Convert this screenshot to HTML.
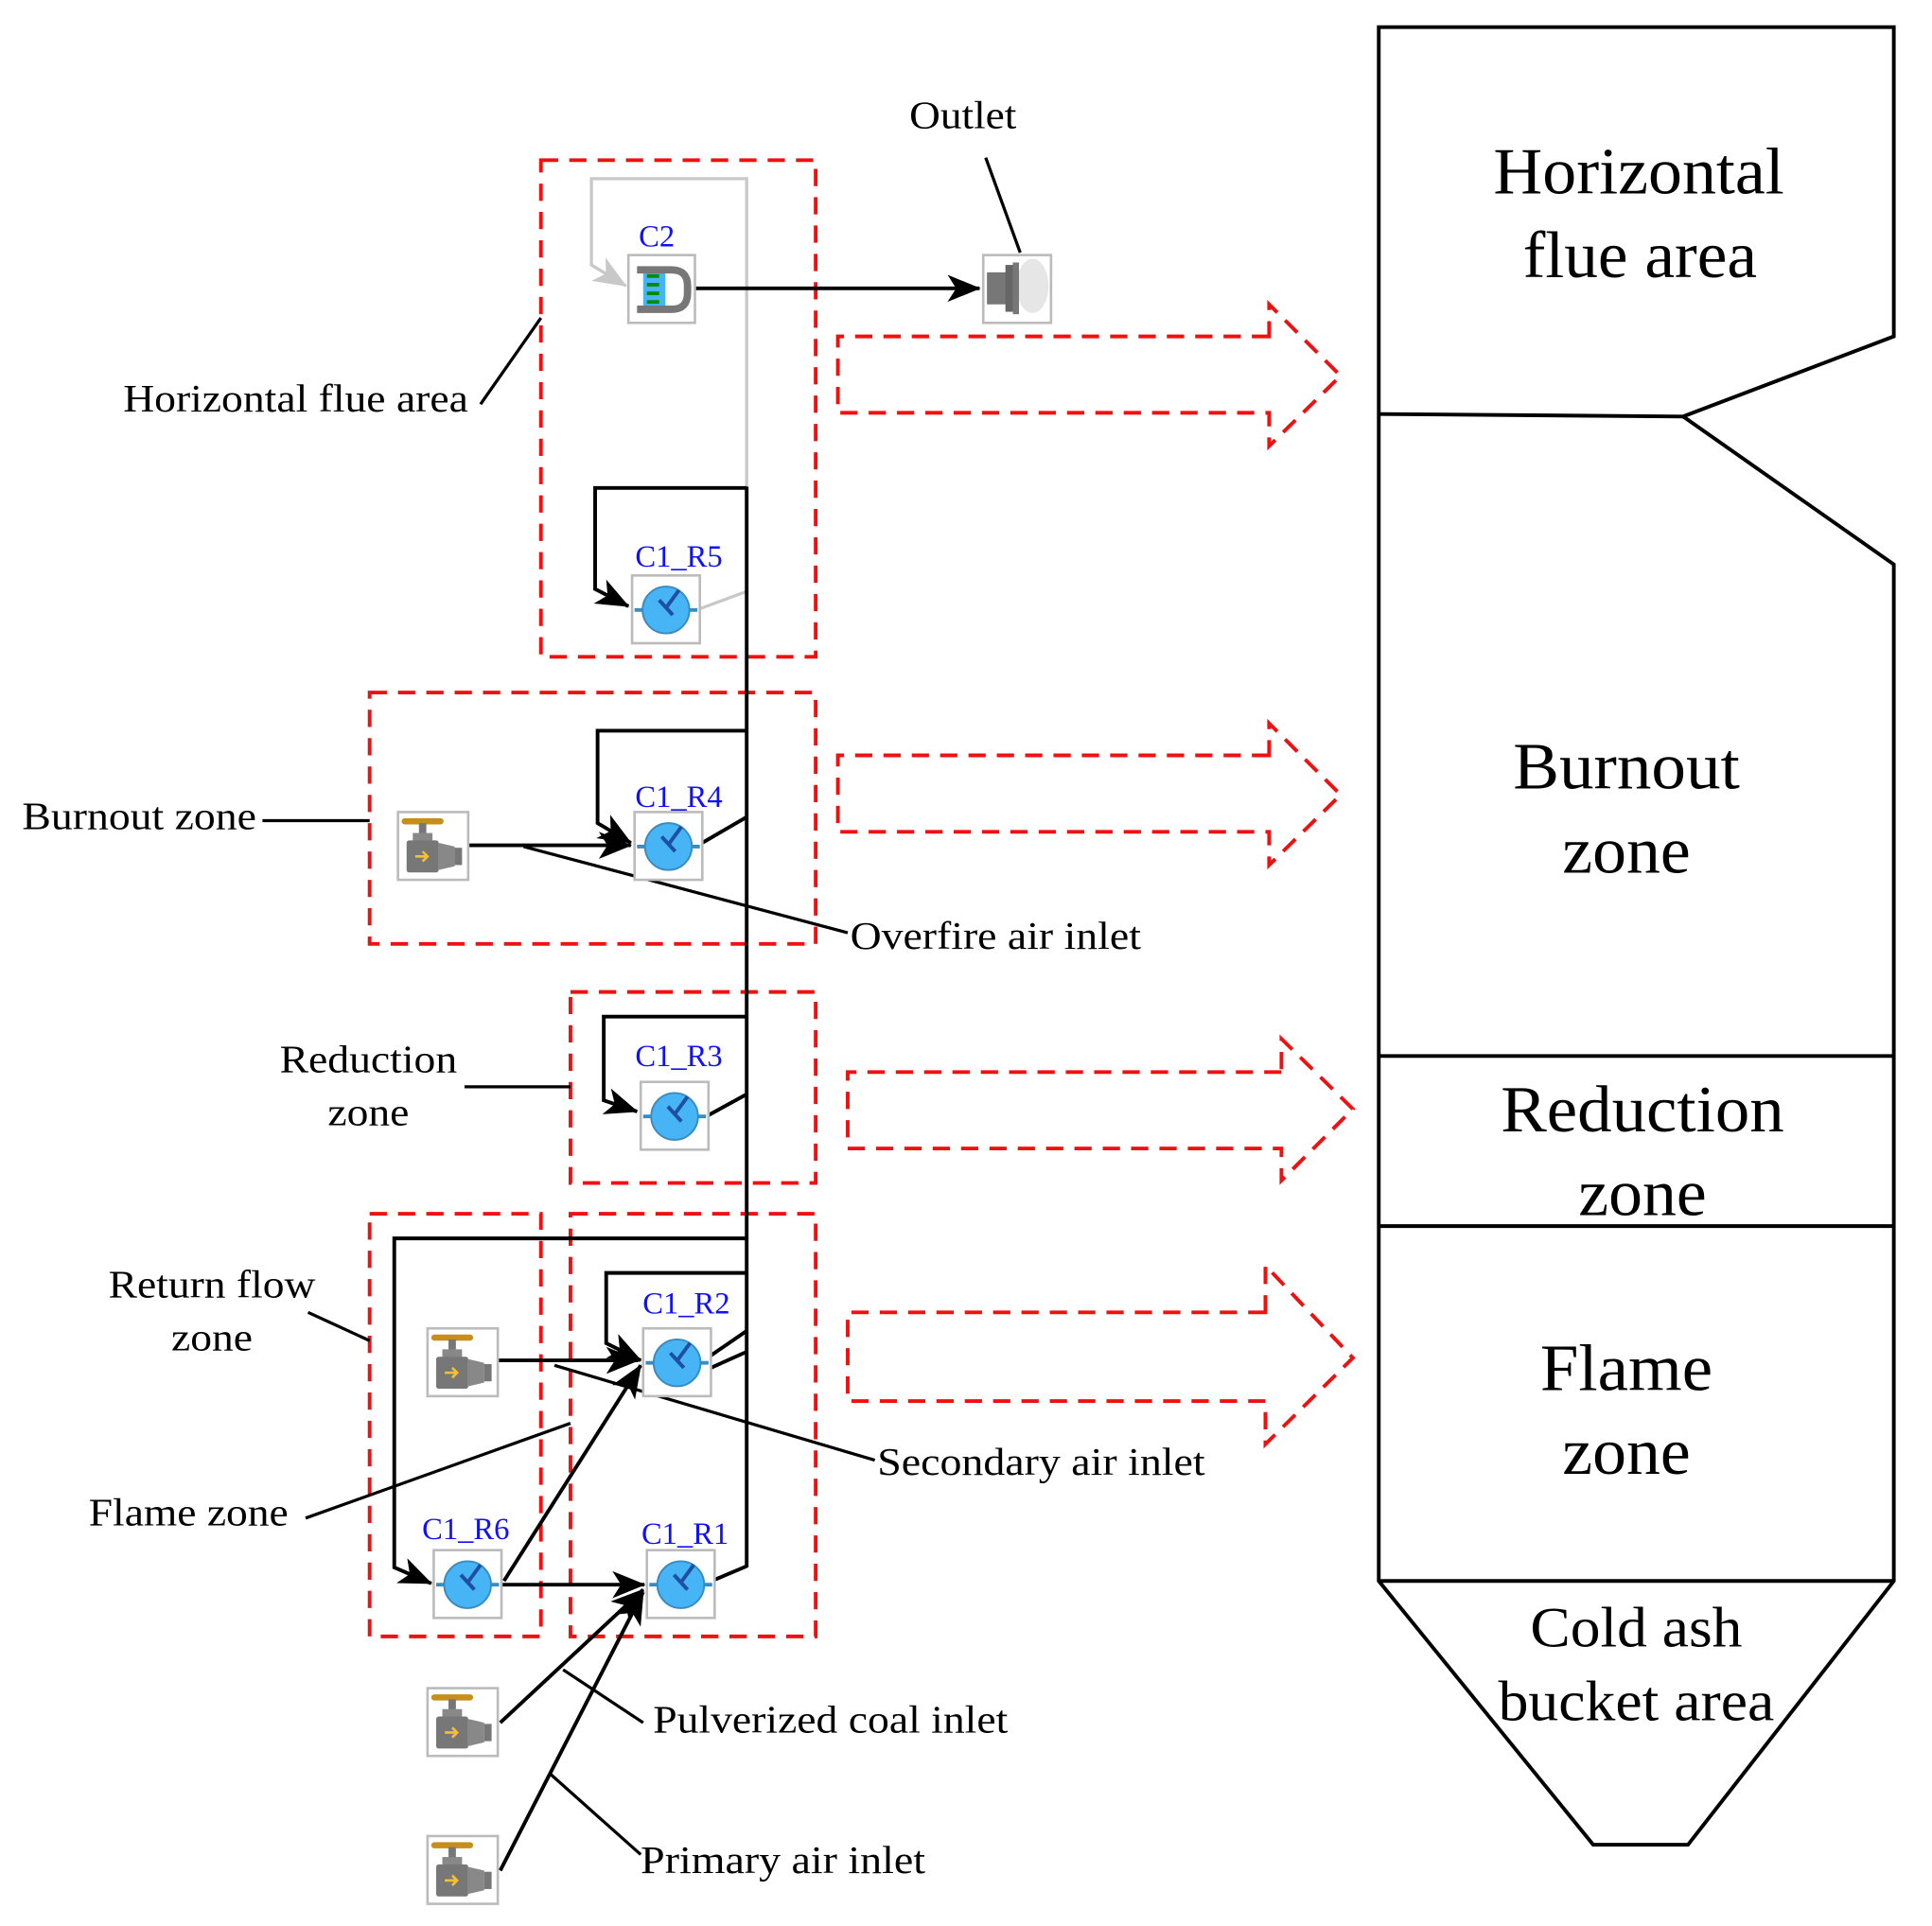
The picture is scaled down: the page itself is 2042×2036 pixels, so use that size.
<!DOCTYPE html>
<html><head><meta charset="utf-8"><style>
html,body{margin:0;padding:0;background:#fff}
svg{display:block}
text{font-family:"Liberation Serif",serif;fill:#000}
.b text{fill:#1010ff;font-size:25px}
.t text{font-size:32px}
.big text{font-size:54px}
</style></head><body>
<svg width="2042" height="2036" viewBox="0 0 1568 1563" preserveAspectRatio="none" xmlns="http://www.w3.org/2000/svg">
<defs>
<marker id="a" markerWidth="28" markerHeight="22" refX="26" refY="11" orient="auto" markerUnits="userSpaceOnUse">
<path d="M0,0 L27,11 L0,22 L7,11 Z" fill="#000"/>
</marker>
<marker id="ag" markerWidth="28" markerHeight="22" refX="26" refY="11" orient="auto" markerUnits="userSpaceOnUse">
<path d="M0,0 L27,11 L0,22 L7,11 Z" fill="#c8c8c8"/>
</marker>
<g id="reac">
<rect x="0" y="0" width="55" height="55" fill="#fff" stroke="#bbb" stroke-width="2"/>
<line x1="2" y1="28" x2="53" y2="28" stroke="#3a8bbf" stroke-width="3"/>
<circle cx="27.5" cy="28" r="19" fill="#47b4f5" stroke="#3a8bbf" stroke-width="1.5"/>
<path d="M27,27 L38,12 M22,20 L33,32" stroke="#1e4fa0" stroke-width="3" fill="none"/>
</g>
<g id="valve">
<rect x="0" y="0" width="57" height="55" fill="#fff" stroke="#bbb" stroke-width="2"/>
<rect x="3" y="5" width="34" height="5" rx="2.5" fill="#c88e1b"/>
<rect x="17" y="9" width="6" height="9" fill="#777"/>
<rect x="12" y="17" width="16" height="7" fill="#888"/>
<rect x="7" y="23" width="26" height="26" rx="2" fill="#777"/>
<path d="M33,25 L46,28 L46,44 L33,47 Z" fill="#888"/>
<rect x="46" y="29" width="6" height="14" fill="#777"/>
<path d="M14,36 L24,36 M20,32 L24,36 L20,40" stroke="#f5c033" stroke-width="2" fill="none"/>
</g>
</defs>

<g stroke="#000" stroke-width="3" fill="none">
<path d="M1119,22 L1537,22 L1537,273 L1366,338 L1537,458 L1537,1283 L1370,1497 L1293,1497 L1119,1283 Z"/>
<line x1="1119" y1="336" x2="1366" y2="338"/>
<line x1="1119" y1="857" x2="1537" y2="857"/>
<line x1="1119" y1="995" x2="1537" y2="995"/>
<line x1="1119" y1="1283" x2="1537" y2="1283"/>
</g>
<g class="big">
<text x="1212" y="157" textLength="236" lengthAdjust="spacingAndGlyphs">Horizontal</text>
<text x="1236" y="225" textLength="190" lengthAdjust="spacingAndGlyphs">flue area</text>
<text x="1228" y="640" textLength="184" lengthAdjust="spacingAndGlyphs">Burnout</text>
<text x="1268" y="708" textLength="104" lengthAdjust="spacingAndGlyphs">zone</text>
<text x="1218" y="918" textLength="230" lengthAdjust="spacingAndGlyphs">Reduction</text>
<text x="1281" y="986" textLength="104" lengthAdjust="spacingAndGlyphs">zone</text>
<text x="1250" y="1128" textLength="140" lengthAdjust="spacingAndGlyphs">Flame</text>
<text x="1268" y="1196" textLength="104" lengthAdjust="spacingAndGlyphs">zone</text>
<text x="1242" y="1336" textLength="172" lengthAdjust="spacingAndGlyphs" style="font-size:46px">Cold ash</text>
<text x="1216" y="1396" textLength="224" lengthAdjust="spacingAndGlyphs" style="font-size:46px">bucket area</text>
</g>

<g stroke="#f01010" stroke-width="3" fill="none" stroke-dasharray="14,9">
<path d="M1030,273 L680,273 L680,335 L1030,335 L1030,362 L1088,305 L1030,247 Z"/>
<path d="M1030,613 L680,613 L680,675 L1030,675 L1030,702 L1088,645 L1030,587 Z"/>
<path d="M1040,870 L688,870 L688,932 L1040,932 L1040,958 L1098,900 L1040,843 Z"/>
<path d="M1027,1065 L688,1065 L688,1137 L1027,1137 L1027,1172 L1098,1102 L1027,1027 Z"/>
<rect x="439" y="130" width="223" height="403"/>
<rect x="300" y="562" width="362" height="204"/>
<rect x="463" y="805" width="199" height="155"/>
<rect x="300" y="985" width="139" height="343"/>
<rect x="463" y="985" width="199" height="343"/>
</g>

<g stroke="#c8c8c8" stroke-width="2.5" fill="none">
<path d="M606,395 L606,145 L480,145 L480,215 L508,232" marker-end="url(#ag)"/>
<line x1="568" y1="494" x2="606" y2="480"/>
</g>

<g stroke="#000" stroke-width="3" fill="none">
<line x1="606" y1="395" x2="606" y2="1272"/>
<line x1="564" y1="234" x2="795" y2="234" marker-end="url(#a)"/>
<path d="M606,396 L483,396 L483,478 L510,492" marker-end="url(#a)"/>
<path d="M606,593 L485,593 L485,668 L512,684" marker-end="url(#a)"/>
<line x1="570" y1="684" x2="606" y2="663"/>
<line x1="380" y1="686" x2="512" y2="686" marker-end="url(#a)"/>
<path d="M606,825 L490,825 L490,893 L517,902" marker-end="url(#a)"/>
<line x1="575" y1="905" x2="606" y2="888"/>
<path d="M606,1005 L320,1005 L320,1272 L350,1285" marker-end="url(#a)"/>
<path d="M606,1033 L492,1033 L492,1090 L520,1104" marker-end="url(#a)"/>
<line x1="577" y1="1100" x2="606" y2="1080"/>
<line x1="577" y1="1110" x2="606" y2="1097"/>
<line x1="404" y1="1104" x2="518" y2="1104" marker-end="url(#a)"/>
<line x1="409" y1="1283" x2="520" y2="1108" marker-end="url(#a)"/>
<line x1="407" y1="1286" x2="523" y2="1286" marker-end="url(#a)"/>
<line x1="580" y1="1282" x2="606" y2="1271"/>
<line x1="406" y1="1398" x2="522" y2="1290" marker-end="url(#a)"/>
<line x1="406" y1="1518" x2="522" y2="1292" marker-end="url(#a)"/>
</g>
<g stroke="#000" stroke-width="2.5" fill="none">
<line x1="800" y1="128" x2="828" y2="205"/>
<line x1="390" y1="328" x2="439" y2="258"/>
<line x1="213" y1="666" x2="300" y2="666"/>
<line x1="425" y1="687" x2="688" y2="757"/>
<line x1="377" y1="882" x2="463" y2="882"/>
<line x1="250" y1="1065" x2="300" y2="1088"/>
<line x1="450" y1="1108" x2="710" y2="1185"/>
<line x1="248" y1="1232" x2="463" y2="1155"/>
<line x1="457" y1="1355" x2="522" y2="1398"/>
<line x1="447" y1="1440" x2="520" y2="1505"/>
</g>

<rect x="510" y="207" width="54" height="55" fill="#fff" stroke="#bbb" stroke-width="2"/>
<rect x="522" y="218" width="18" height="34" fill="#47b4f5"/>
<path d="M517,219 L545,219 Q558,219 558,232 L558,238 Q558,251 545,251 L517,251" stroke="#777" stroke-width="6" fill="none"/>
<path d="M525,224 L535,224 M525,231 L535,231 M525,238 L535,238 M525,245 L535,245" stroke="#0a8a0a" stroke-width="3"/>
<rect x="798" y="207" width="55" height="55" fill="#fff" stroke="#bbb" stroke-width="2"/>
<ellipse cx="838" cy="232" rx="13" ry="22" fill="#e6e6e6"/>
<rect x="801" y="221" width="16" height="26" fill="#777"/>
<rect x="816" y="215" width="6" height="38" fill="#666"/>
<rect x="822" y="213" width="5" height="42" fill="#777"/>

<use href="#reac" x="513" y="467"/>
<use href="#reac" x="515" y="659"/>
<use href="#reac" x="520" y="878"/>
<use href="#reac" x="522" y="1078"/>
<use href="#reac" x="352" y="1258"/>
<use href="#reac" x="525" y="1258"/>
<use href="#valve" x="323" y="659"/>
<use href="#valve" x="347" y="1078"/>
<use href="#valve" x="347" y="1370"/>
<use href="#valve" x="347" y="1490"/>

<g class="b" text-anchor="middle">
<text x="533" y="200">C2</text>
<text x="551" y="460">C1_R5</text>
<text x="551" y="655">C1_R4</text>
<text x="551" y="865">C1_R3</text>
<text x="557" y="1066">C1_R2</text>
<text x="378" y="1249">C1_R6</text>
<text x="556" y="1253">C1_R1</text>
</g>

<g class="t">
<text x="738" y="104" textLength="87" lengthAdjust="spacingAndGlyphs">Outlet</text>
<text x="100" y="334" textLength="280" lengthAdjust="spacingAndGlyphs">Horizontal flue area</text>
<text x="18" y="673" textLength="190" lengthAdjust="spacingAndGlyphs">Burnout zone</text>
<text x="690" y="770" textLength="236" lengthAdjust="spacingAndGlyphs">Overfire air inlet</text>
<text x="227" y="870" textLength="144" lengthAdjust="spacingAndGlyphs">Reduction</text>
<text x="266" y="913" textLength="66" lengthAdjust="spacingAndGlyphs">zone</text>
<text x="88" y="1053" textLength="168" lengthAdjust="spacingAndGlyphs">Return flow</text>
<text x="139" y="1096" textLength="66" lengthAdjust="spacingAndGlyphs">zone</text>
<text x="72" y="1238" textLength="162" lengthAdjust="spacingAndGlyphs">Flame zone</text>
<text x="712" y="1197" textLength="266" lengthAdjust="spacingAndGlyphs">Secondary air inlet</text>
<text x="530" y="1406" textLength="288" lengthAdjust="spacingAndGlyphs">Pulverized coal inlet</text>
<text x="520" y="1520" textLength="231" lengthAdjust="spacingAndGlyphs">Primary air inlet</text>
</g>
</svg>
</body></html>
